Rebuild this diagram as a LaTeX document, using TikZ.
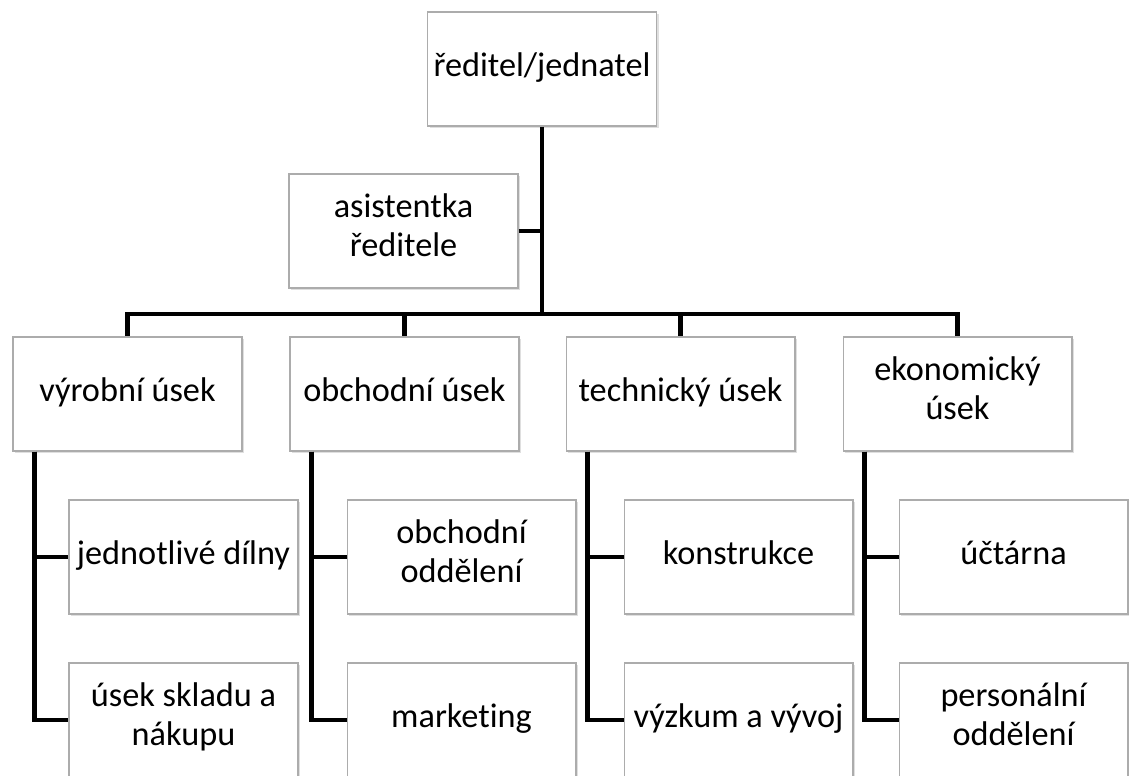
\documentclass[tikz,border=0pt]{standalone}
\usepackage{fontspec}
\setmainfont{Carlito}[Ligatures=NoCommon]
\usepackage{tikz}
\usetikzlibrary{shadows}

\begin{document}
\begin{tikzpicture}[x=0.02cm,y=-0.02cm]
        \useasboundingbox (0,0) rectangle (1129,776);
        \begin{scope}[every node/.style={rectangle,draw=gray!65,fill=white,line width=0.6pt,
                minimum width=4.58cm,minimum height=2.28cm,align=center,inner sep=1pt,
                font=\fontsize{19.5}{22.5}\selectfont,
                execute at begin node=\strut,execute at end node=\strut,
                drop shadow={shadow xshift=1.4pt,shadow yshift=-1.4pt,opacity=0.25}}]
            \node (1) at (542,69) {ředitel/jednatel};
            \node (2) at (403.5,231) {asistentka\\ředitele};

            \node (3) at (127.5,394) {výrobní úsek};
            \node (4) at (404.5,394) {obchodní úsek};
            \node (5) at (680.5,394) {technický úsek};
            \node (6) at (957.5,394) {ekonomický\\úsek};

            \node (7) at (183.5,557) {jednotlivé dílny};
            \node (8) at (461.5,557) {obchodní\\oddělení};
            \node (9) at (738.5,557) {konstrukce};
            \node (10) at (1013.5,557) {účtárna};

            \node (11) at (183.5,720) {úsek skladu a\\nákupu};
            \node (12) at (461.5,720) {marketing};
            \node (13) at (738.5,720) {výzkum a vývoj};
            \node (14) at (1013.5,720) {personální\\oddělení};
        \end{scope}

        \coordinate (bar) at (542,314);
        \coordinate (c3) at ([xshift=0.44cm]3.south west);
        \coordinate (c4) at ([xshift=0.44cm]4.south west);
        \coordinate (c5) at ([xshift=0.44cm]5.south west);
        \coordinate (c6) at ([xshift=0.44cm]6.south west);

        \begin{scope}[every edge/.style={draw,line width=2.6pt},
                elbow/.style={to path={|- (\tikztotarget)}}]
            \path [-] (1) edge node {} (1 |- bar);
            \path [-] (2.east) edge[line width=2pt] node {} (2.east -| 1.south);
            \path [-] (3 |- bar) edge[line cap=rect] node {} (6 |- bar);

            \path [-] (3 |- bar) edge node {} (3);
            \path [-] (4 |- bar) edge node {} (4);
            \path [-] (5 |- bar) edge node {} (5);
            \path [-] (6 |- bar) edge node {} (6);

            \path [-] (c3) edge[elbow] node {} (7.west);
            \path [-] (c3) edge[elbow] node {} (11.west);
            \path [-] (c4) edge[elbow] node {} (8.west);
            \path [-] (c4) edge[elbow] node {} (12.west);
            \path [-] (c5) edge[elbow] node {} (9.west);
            \path [-] (c5) edge[elbow] node {} (13.west);
            \path [-] (c6) edge[elbow] node {} (10.west);
            \path [-] (c6) edge[elbow] node {} (14.west);
        \end{scope}
    \end{tikzpicture}
\end{document}
